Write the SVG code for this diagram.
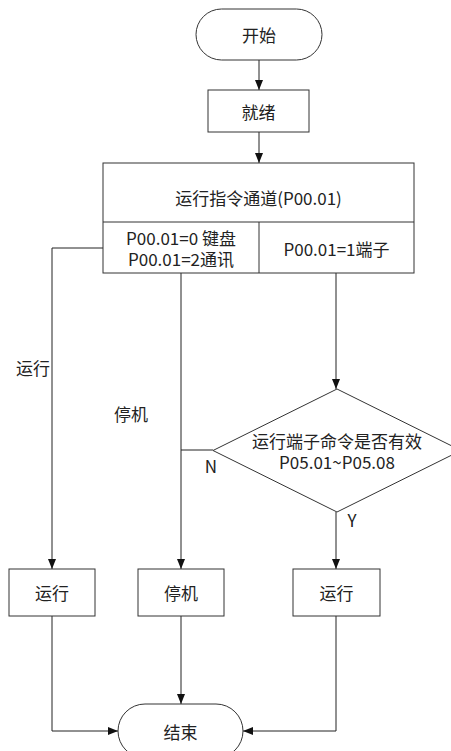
<svg xmlns="http://www.w3.org/2000/svg" width="451" height="751" viewBox="0 0 451 751">
<style>
.shape{fill:#fff;stroke:#333;stroke-width:1}
.line{fill:none;stroke:#222;stroke-width:1}
text{font-family:"Noto Sans CJK SC","Noto Sans",sans-serif;font-size:17px;fill:#222;text-anchor:middle;dominant-baseline:central}
</style>
<defs>
<marker id="arr" viewBox="0 0 10 10" refX="10" refY="5" markerWidth="10" markerHeight="10" markerUnits="userSpaceOnUse" orient="auto">
<path d="M0,1 L10,5 L0,9 Z" fill="#111"/>
</marker>
</defs>
<rect width="451" height="751" fill="#fff"/>
<g id="connectors">
<line class="line" x1="259" y1="60" x2="259" y2="90" marker-end="url(#arr)"/>
<line class="line" x1="259" y1="132" x2="259" y2="163" marker-end="url(#arr)"/>
<polyline class="line" points="103,248 52,248 52,569" marker-end="url(#arr)"/>
<line class="line" x1="181" y1="273" x2="181" y2="569" marker-end="url(#arr)"/>
<line class="line" x1="336" y1="273" x2="336" y2="389" marker-end="url(#arr)"/>
<line class="line" x1="181" y1="450" x2="213" y2="450"/>
<line class="line" x1="336" y1="512" x2="336" y2="569" marker-end="url(#arr)"/>
<polyline class="line" points="52,616 52,731 118,731" marker-end="url(#arr)"/>
<line class="line" x1="181" y1="616" x2="181" y2="704" marker-end="url(#arr)"/>
<polyline class="line" points="336,616 336,731 243,731" marker-end="url(#arr)"/>
<text x="33" y="367">运行</text>
<text x="131" y="413">停机</text>
<text x="211" y="465">N</text>
<text x="352" y="519">Y</text>
</g>
<g id="start">
<rect class="shape" x="196" y="9" width="126" height="51" rx="25.5"/>
<text x="259" y="34">开始</text>
</g>
<g id="ready">
<rect class="shape" x="208" y="90" width="101" height="42"/>
<text x="258.5" y="111">就绪</text>
</g>
<g id="channel">
<rect class="shape" x="103" y="163" width="311" height="110"/>
<line class="shape" x1="103" y1="222" x2="414" y2="222"/>
<line class="shape" x1="259" y1="222" x2="259" y2="273"/>
<text x="258.5" y="197">运行指令通道(P00.01)</text>
<text x="181" y="237">P00.01=0 键盘</text>
<text x="181" y="258">P00.01=2通讯</text>
<text x="336.5" y="248">P00.01=1端子</text>
</g>
<g id="decision">
<polygon class="shape" points="337,389 461,450.5 337,512 213,450.5"/>
<text x="337" y="440">运行端子命令是否有效</text>
<text x="337" y="461">P05.01~P05.08</text>
</g>
<g id="run-left">
<rect class="shape" x="9" y="569" width="86" height="47"/>
<text x="52" y="592.5">运行</text>
</g>
<g id="stop">
<rect class="shape" x="138" y="569" width="86" height="47"/>
<text x="181" y="592.5">停机</text>
</g>
<g id="run-right">
<rect class="shape" x="293" y="569" width="87" height="47"/>
<text x="336.5" y="592.5">运行</text>
</g>
<g id="end">
<rect class="shape" x="118" y="704" width="125" height="54" rx="27"/>
<text x="180.5" y="731">结束</text>
</g>
</svg>
